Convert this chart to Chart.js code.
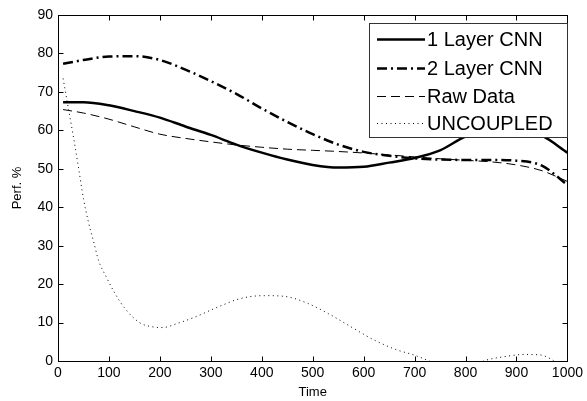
<!DOCTYPE html>
<html>
<head>
<meta charset="utf-8">
<script src="https://cdn.jsdelivr.net/npm/chart.js@4/dist/chart.umd.min.js"></script>
<style>
  html, body { margin: 0; padding: 0; background: #fff; }
  #wrap { width: 587px; height: 401px; position: relative; }
</style>
</head>
<body>
<div id="wrap"><canvas id="c"></canvas></div>
<script>
// Time samples for the three trained/raw series
const timeSteps = [10, 50, 100, 150, 200, 250, 300, 350, 400, 450, 500, 550, 600, 650, 700, 750, 800, 850, 900, 950, 1000];
const oneLayerCNN = [67.3, 67.3, 66.5, 65, 63.3, 61, 58.8, 56.3, 54.2, 52.4, 51, 50.3, 50.5, 51.6, 52.8, 54.8, 58.4, 60.2, 60.6, 58.6, 54.2];
const twoLayerCNN = [77.3, 78.3, 79.2, 79.3, 78.3, 75.8, 72.8, 69.5, 65.7, 62.2, 59, 56.3, 54.4, 53.4, 52.7, 52.4, 52.3, 52.3, 52.1, 50.8, 45.8];
const rawData = [65.4, 64.5, 62.9, 60.9, 59.0, 57.9, 57.0, 56.2, 55.6, 55.1, 54.8, 54.5, 54.1, 53.6, 53.1, 52.6, 52.2, 51.8, 51, 49.5, 46.7];

// The uncoupled series has its own, denser time samples
const uncoupledTime = [10, 20, 30, 40, 50, 60, 70, 80, 95, 110, 130, 160, 185, 205, 235, 270, 315, 360, 405, 445, 490, 535, 575, 620, 665, 700, 725, 780, 840, 875, 915, 945, 970, 1000];
const uncoupled = [73.5, 66, 58.5, 50.5, 42.2, 36, 31, 26, 21.8, 18, 13.9, 10, 8.9, 8.7, 9.8, 11.5, 14.1, 16.3, 17, 16.8, 15, 12, 8.9, 5.5, 2.9, 1.5, 0.2, -3, 0.2, 1.1, 1.7, 1.6, 0.3, -3];

const seriesLabels = ['1 Layer CNN', '2 Layer CNN', 'Raw Data', 'UNCOUPLED'];
const xTicks = [0, 100, 200, 300, 400, 500, 600, 700, 800, 900, 1000];
const yTicks = [0, 10, 20, 30, 40, 50, 60, 70, 80, 90];

const pts = (xs, ys) => xs.map((x, i) => ({ x: x, y: ys[i] }));

const FONT = "'Liberation Sans', Arial, sans-serif";

// Axes box, inward tick marks on all four sides, and the boxed legend
const framePlugin = {
  id: 'frame',
  afterDraw(chart) {
    const { ctx, chartArea: a, scales } = chart;
    const xs = scales.x, ys = scales.y;
    ctx.save();
    ctx.strokeStyle = '#000';
    ctx.lineWidth = 1;
    ctx.setLineDash([]);
    const L = Math.round(a.left) + 0.5, R = Math.round(a.right) + 0.5;
    const T = Math.round(a.top) + 0.5, B = Math.round(a.bottom) + 0.5;
    ctx.strokeRect(L, T, R - L, B - T);
    const tl = 5;
    ctx.beginPath();
    xTicks.forEach(v => {
      const px = Math.round(xs.getPixelForValue(v)) + 0.5;
      ctx.moveTo(px, B); ctx.lineTo(px, B - tl);
      ctx.moveTo(px, T); ctx.lineTo(px, T + tl);
    });
    yTicks.forEach(v => {
      const py = Math.round(ys.getPixelForValue(v)) + 0.5;
      ctx.moveTo(L, py); ctx.lineTo(L + tl, py);
      ctx.moveTo(R, py); ctx.lineTo(R - tl, py);
    });
    ctx.stroke();

    // legend
    const lx = 369.5, ly = 23.5, lw = 198, lh = 114;
    ctx.fillStyle = '#fff';
    ctx.fillRect(lx, ly, lw, lh);
    ctx.strokeStyle = '#333';
    ctx.strokeRect(lx, ly, lw, lh);
    const rows = [39, 68, 96, 123];
    ctx.font = '20px ' + FONT;
    ctx.textBaseline = 'middle';
    ctx.textAlign = 'left';
    chart.data.datasets.forEach((ds, i) => {
      const y = rows[i] + 0.5;
      ctx.save();
      ctx.strokeStyle = '#000';
      ctx.lineWidth = ds.borderWidth;
      ctx.setLineDash(ds.borderDash || []);
      ctx.beginPath();
      ctx.moveTo(377, y); ctx.lineTo(425, y);
      ctx.stroke();
      ctx.restore();
      ctx.fillStyle = '#000';
      ctx.fillText(ds.label, 427, rows[i] + 1);
    });
    ctx.restore();
  }
};

new Chart(document.getElementById('c'), {
  type: 'line',
  data: {
    datasets: [
      { label: seriesLabels[0], data: pts(timeSteps, oneLayerCNN), borderColor: '#000', borderWidth: 2.5, borderDash: [] },
      { label: seriesLabels[1], data: pts(timeSteps, twoLayerCNN), borderColor: '#000', borderWidth: 2.5, borderDash: [10, 4, 2, 4] },
      { label: seriesLabels[2], data: pts(timeSteps, rawData), borderColor: '#000', borderWidth: 1, borderDash: [9, 5] },
      { label: seriesLabels[3], data: pts(uncoupledTime, uncoupled), borderColor: '#000', borderWidth: 1, borderDash: [1, 3.5] }
    ]
  },
  options: {
    responsive: true,
    maintainAspectRatio: false,
    animation: false,
    devicePixelRatio: 1,
    layout: { padding: { top: 15, right: 14, left: 0, bottom: 0 } },
    elements: {
      point: { radius: 0, hoverRadius: 0 },
      line: { cubicInterpolationMode: 'monotone', fill: false }
    },
    plugins: { legend: { display: false }, tooltip: { enabled: false } },
    scales: {
      x: {
        type: 'linear', min: 0, max: 1000,
        grid: { display: false, drawTicks: false },
        border: { display: false },
        afterBuildTicks(s) { s.ticks = xTicks.map(v => ({ value: v })); },
        afterFit(s) { s.height = 40; },
        ticks: { color: '#000', padding: 4, maxRotation: 0, autoSkip: false, font: { family: FONT, size: 14 }, callback: v => String(v) },
        title: { display: true, text: 'Time', color: '#000', font: { family: FONT, size: 13 }, padding: { top: 0, bottom: 0.5 } }
      },
      y: {
        min: 0, max: 90,
        grid: { display: false, drawTicks: false },
        border: { display: false },
        afterBuildTicks(s) { s.ticks = yTicks.map(v => ({ value: v })); },
        afterFit(s) { s.width = 58; },
        ticks: { color: '#000', padding: 5, autoSkip: false, font: { family: FONT, size: 14 }, callback: v => String(v) },
        title: { display: true, text: 'Perf. %', color: '#000', font: { family: FONT, size: 13 }, padding: { top: 10, bottom: 0 } }
      }
    }
  },
  plugins: [framePlugin]
});
</script>
</body>
</html>
